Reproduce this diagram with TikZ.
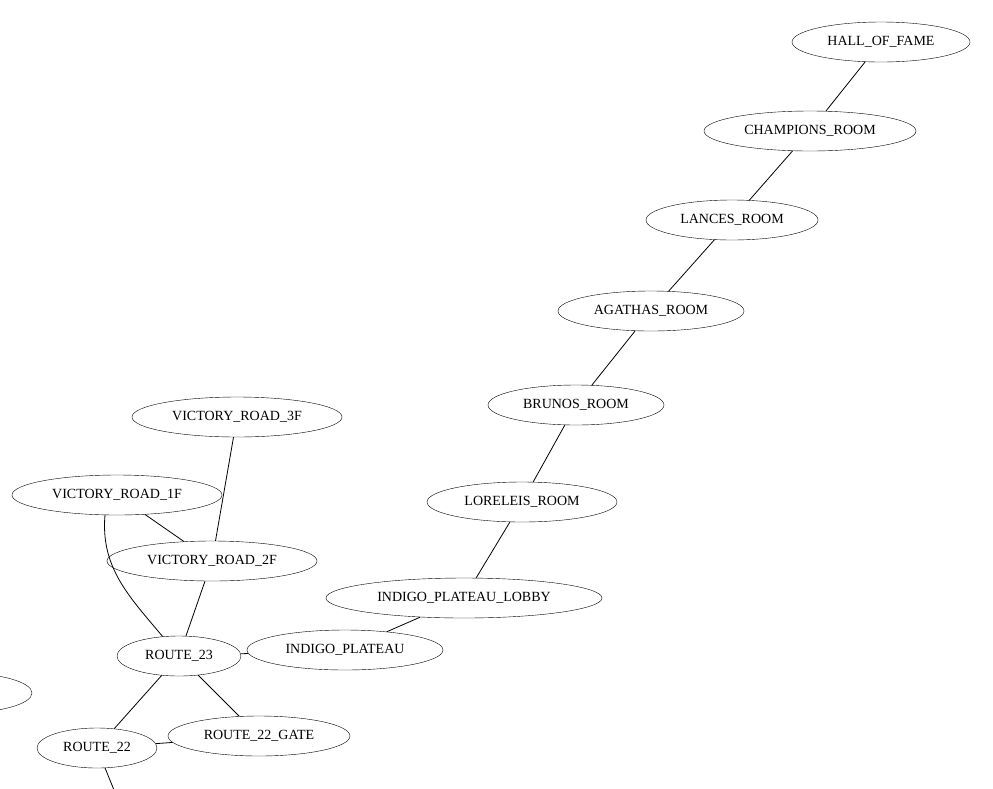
\documentclass[tikz,border=0pt]{standalone}
\usepackage{fontspec}
\setmainfont{Liberation Serif}
\usetikzlibrary{shapes.geometric}
\begin{document}
\begin{tikzpicture}[x=1pt,y=-1pt,
  st/.style={ellipse,draw,inner sep=0pt,minimum height=40pt,font=\fontsize{14}{16}\selectfont},
  ed/.style={draw,line width=0.8pt}]
\useasboundingbox (0,0) rectangle (993,788);
\node[st,minimum width=178pt] (hof) at (881,42) {HALL\_OF\_FAME};
\node[st,minimum width=212pt] (cr) at (810,131) {CHAMPIONS\_ROOM};
\node[st,minimum width=172pt] (lr) at (732,220) {LANCES\_ROOM};
\node[st,minimum width=186pt] (ar) at (651,311) {AGATHAS\_ROOM};
\node[st,minimum width=176pt] (br) at (576,405) {BRUNOS\_ROOM};
\node[st,minimum width=190pt] (lor) at (522,502) {LORELEIS\_ROOM};
\node[st,minimum width=276pt] (lob) at (464,598) {INDIGO\_PLATEAU\_LOBBY};
\node[st,minimum width=196pt] (ip) at (345,650) {INDIGO\_PLATEAU};
\node[st,minimum width=124pt] (r23) at (179,656) {ROUTE\_23};
\node[st,minimum width=210pt] (v3) at (237,417) {VICTORY\_ROAD\_3F};
\node[st,minimum width=210pt] (v1) at (117,495) {VICTORY\_ROAD\_1F};
\node[st,minimum width=210pt] (v2) at (212,561) {VICTORY\_ROAD\_2F};
\node[st,minimum width=120pt] (r22) at (97,748) {ROUTE\_22};
\node[st,minimum width=182pt] (r22g) at (259,736) {ROUTE\_22\_GATE};
\node[st,minimum width=144pt] (off) at (-40,693) {};
\coordinate (down) at (118,800);
\draw[ed] (hof)--(cr) (cr)--(lr) (lr)--(ar) (ar)--(br) (br)--(lor) (lor)--(lob)
 (lob)--(ip) (ip)--(r23) (r23)--(v2) (v3)--(v2) (v1)--(v2) (r23)--(r22)
 (r23)--(r22g) (r22)--(r22g) (r22)--(down);
\draw[ed] (v1.south west) ++(0,0) (105,515) to[out=-95,in=130] (r23);
\end{tikzpicture}
\end{document}
